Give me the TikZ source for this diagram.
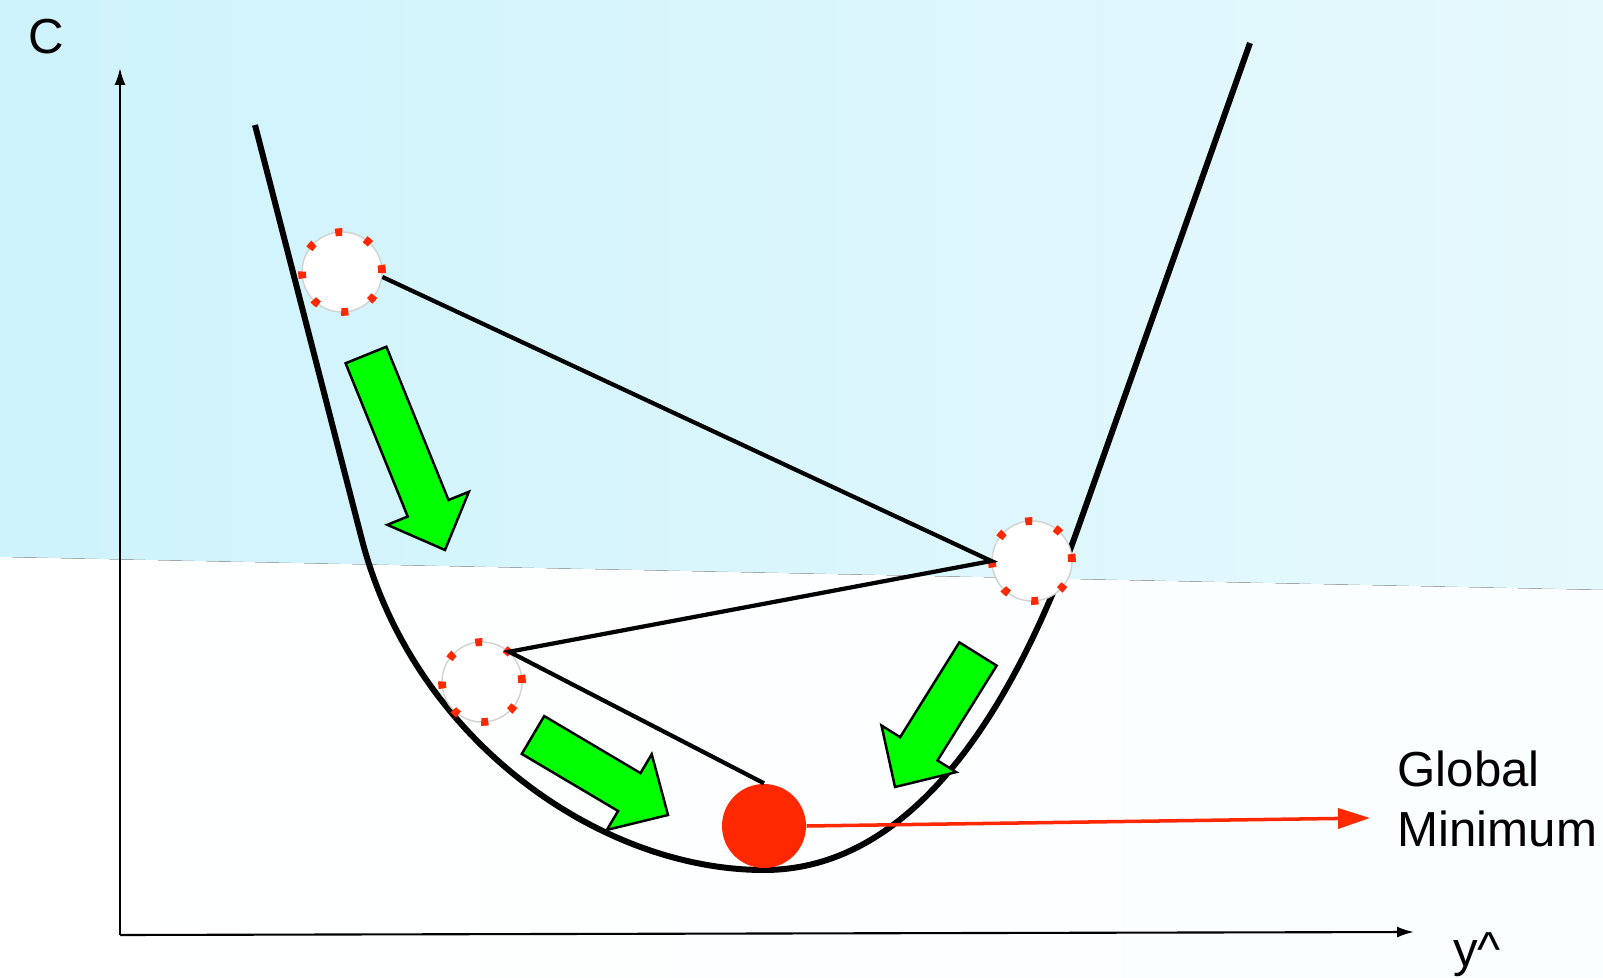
\documentclass[tikz,border=0pt]{standalone}
\usepackage{fontspec}
\setmainfont{Liberation Sans}
\usetikzlibrary{positioning,arrows.meta,calc}
\definecolor{skyc}{RGB}{206,243,252}
\definecolor{skylitec}{RGB}{230,249,253}
\definecolor{goc}{RGB}{0,255,0}
\definecolor{minc}{RGB}{255,40,0}
\tikzset{
  bowl/.style   = {line width=1.7pt, draw=black},
  axis/.style   = {-{Latex[length=1.7mm,width=1.1mm]}, line width=0.6pt},
  trial/.style  = {circle, fill=white, draw=gray!35, line width=0.4pt, minimum size=8mm, inner sep=0pt,
                   postaction={draw=minc, line width=2.2pt, dash pattern=on 2pt off 6.9pt}},
  ball/.style   = {circle, fill=minc, minimum size=8.4mm, inner sep=0pt},
  hop/.style    = {line width=1.2pt, draw=black},
  toward/.style = {-{Triangle[length=3.2mm,width=2mm]}, line width=1pt, draw=minc},
  push/.style   = {fill=goc, draw=black, line width=0.7pt, line join=miter},
  lbl/.style    = {font=\fontsize{14}{17}\selectfont, inner sep=0pt, align=left},
}
\begin{document}
\begin{tikzpicture}[x=0.1mm, y=-0.1mm]
\useasboundingbox (0,0) rectangle (1603,978);

% ---- background ----
\fill[left color=skyc, right color=skylitec] (0,0) -- (1603,0) -- (1603,590) -- (0,557) -- cycle;
\fill[left color=white, right color=white!80!skylitec] (0,557) -- (1603,590) -- (1603,978) -- (0,978) -- cycle;

% ---- axes ----
\coordinate (o) at (120,935);
\draw[axis] (o) -- (120,68);
\draw[axis] (o) -- (1414,932);
\node[lbl] (cax) at (46,37) {C};
\node[lbl] (yax) at (1477,955) {y\textasciicircum};

% ---- cost curve ----
\draw[bowl] (255,125) -- (362,540) .. controls (414,740) and (600,870) .. (764,870)
  .. controls (914,870) and (1014,708) .. (1078,528) -- (1250,43);

% ---- steps of the descent ----
\node[trial] (w1) at (342,272) {};
\node[trial] (w2) at (1032,561) {};
\node[trial] (w3) at (482,682) {};
\node[ball] (wmin) at (764,826) {};
\draw[hop] (w1.-7) -- (w2.180) -- (w3.48) -- (wmin.north);

% ---- green block arrows ----
\foreach \tx/\ty/\px/\py in {366/355/445/550, 978/654/895/787, 533/735/668/815} {
  \coordinate (tail) at (\tx,\ty);
  \coordinate (tip) at (\px,\py);
  \coordinate (neck) at ($(tip)!4.5mm!(tail)$);
  \filldraw[push] ($(tail)!2.2mm!90:(tip)$) -- ($(neck)!2.2mm!90:(tip)$)
    -- ($(neck)!4.4mm!90:(tip)$) -- (tip) -- ($(neck)!4.4mm!-90:(tip)$)
    -- ($(neck)!2.2mm!-90:(tip)$) -- ($(tail)!2.2mm!-90:(tip)$) -- cycle;
}

% ---- label ----
\node[lbl, anchor=west] (gmin) at (1397,799) {Global\\Minimum};
\coordinate (gmtip) at (1370,818);
\draw[toward] (wmin.east) -- (gmtip);

\end{tikzpicture}
\end{document}
